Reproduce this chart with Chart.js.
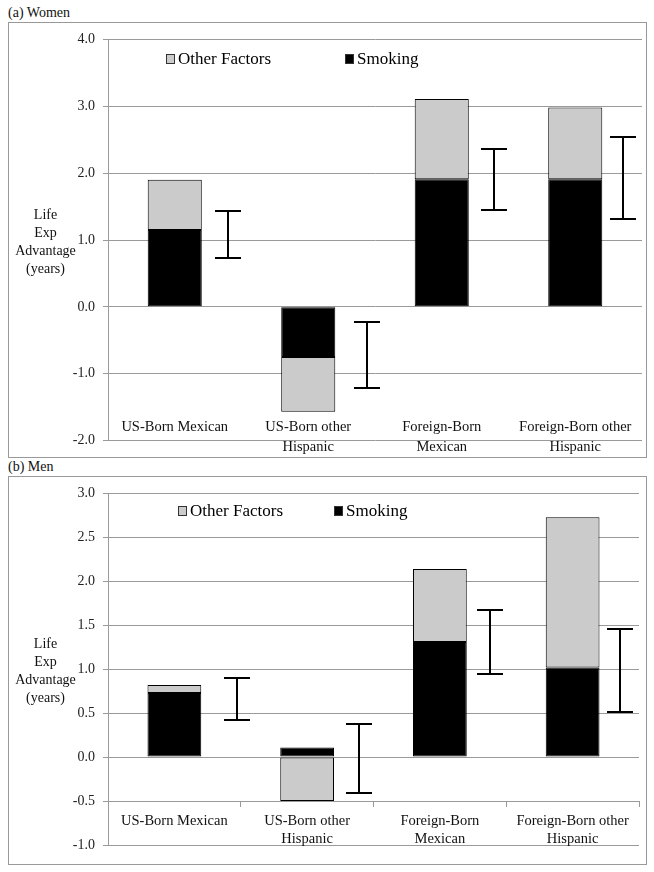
<!DOCTYPE html>
<html>
<head>
<meta charset="utf-8">
<script src="https://cdn.jsdelivr.net/npm/chart.js@4"></script>
<style>
  body { margin: 0; background: #fff; font-family: "Liberation Serif", "Times New Roman", serif; }
  .lbl { position: absolute; left: 8px; font-size: 14px; line-height: 16px; color: #111; }
  .box { position: absolute; left: 8px; width: 639px; box-sizing: border-box; border: 1px solid #999; }
  canvas { display: block; }
</style>
</head>
<body>
<div class="lbl" style="top:5px">(a) Women</div>
<div class="box" style="top:22px;height:436px"><canvas id="women" width="637" height="434"></canvas></div>
<div class="lbl" style="top:459px">(b) Men</div>
<div class="box" style="top:476px;height:389px"><canvas id="men" width="637" height="387"></canvas></div>

<script>
const categories = ['US-Born Mexican', ['US-Born other', 'Hispanic'], ['Foreign-Born', 'Mexican'], ['Foreign-Born other', 'Hispanic']];
const axisTitle = ['Life', 'Exp', 'Advantage', '(years)'];

// women
const womenSmoking = [1.15, -0.75, 1.91, 1.91];
const womenOther = [0.75, -0.82, 1.20, 1.07];
const womenLow = [0.73, -1.21, 1.45, 1.32];
const womenHigh = [1.43, -0.22, 2.36, 2.54];
const womenTicks = [-2, -1, 0, 1, 2, 3, 4];

// men
const menSmoking = [0.73, 0.11, 1.31, 1.02];
const menOther = [0.09, -0.50, 0.83, 1.71];
const menLow = [0.42, -0.41, 0.95, 0.51];
const menHigh = [0.90, 0.38, 1.67, 1.46];
const menTicks = [-1, -0.5, 0, 0.5, 1, 1.5, 2, 2.5, 3];

const FONT = '"Liberation Serif", "Times New Roman", serif';
const GRID = '#9a9a9a';

function errorBars(low, high, offsets) {
  return {
    id: 'errorBars',
    afterDatasetsDraw(chart) {
      const { ctx, scales: { x, y } } = chart;
      const catW = x.width / x.ticks.length;
      ctx.save();
      ctx.strokeStyle = '#000';
      ctx.lineWidth = 2;
      low.forEach((lo, i) => {
        const cx = Math.round(x.getPixelForValue(i) + offsets[i] * catW);
        const y1 = Math.round(y.getPixelForValue(high[i]));
        const y2 = Math.round(y.getPixelForValue(lo));
        ctx.beginPath();
        ctx.moveTo(cx, y1); ctx.lineTo(cx, y2);
        ctx.moveTo(cx - 13, y1); ctx.lineTo(cx + 13, y1);
        ctx.moveTo(cx - 13, y2); ctx.lineTo(cx + 13, y2);
        ctx.stroke();
      });
      ctx.restore();
    }
  };
}

// legend drawn inside the plot area, like the original
function insideLegend(xs, dy) {
  return {
    id: 'insideLegend',
    afterDraw(chart) {
      const { ctx, chartArea } = chart;
      const sets = chart.data.datasets.slice().reverse();
      ctx.save();
      ctx.font = '17px ' + FONT;
      ctx.textBaseline = 'middle';
      sets.forEach((ds, i) => {
        const bx = Math.round(chartArea.left + xs[i]);
        const cy = Math.round(chartArea.top + dy);
        ctx.fillStyle = ds.backgroundColor;
        ctx.fillRect(bx, cy - 5, 8, 9);
        ctx.strokeStyle = '#333';
        ctx.lineWidth = 1;
        ctx.strokeRect(bx + 0.5, cy - 4.5, 8, 9);
        ctx.fillStyle = '#000';
        ctx.fillText(ds.label, bx + 12, cy + 1);
      });
      ctx.restore();
    }
  };
}

function yTitle(cx) {
  return {
    id: 'yTitle',
    afterDraw(chart) {
      const { ctx, chartArea } = chart;
      const mid = (chartArea.top + chartArea.bottom) / 2 + 2;
      ctx.save();
      ctx.font = '14px ' + FONT;
      ctx.fillStyle = '#111';
      ctx.textAlign = 'center';
      ctx.textBaseline = 'middle';
      axisTitle.forEach((t, i) => ctx.fillText(t, cx, mid + (i - 1.5) * 18));
      ctx.restore();
    }
  };
}

function makeChart(id, smoking, other, low, high, ticks, o) {
  return new Chart(document.getElementById(id), {
    type: 'bar',
    data: {
      labels: categories,
      datasets: [
        { label: 'Smoking', data: smoking, backgroundColor: '#000000', borderColor: '#000', borderWidth: 1, borderSkipped: false },
        { label: 'Other Factors', data: other, backgroundColor: '#cbcbcb', borderColor: '#000', borderWidth: 1, borderSkipped: false }
      ]
    },
    options: {
      responsive: false,
      animation: false,
      layout: { padding: o.padding },
      datasets: { bar: { categoryPercentage: 1, barPercentage: 0.405 } },
      plugins: { legend: { display: false }, tooltip: { enabled: false } },
      scales: {
        x: {
          stacked: true,
          position: { y: o.axisAt },
          grid: o.xGrid,
          border: { display: o.xBorder, color: GRID },
          ticks: {
            autoSkip: false, maxRotation: 0, padding: o.tickPad, color: '#111',
            font: { family: FONT, size: 14.5, lineHeight: o.lineH }
          }
        },
        y: {
          stacked: true,
          min: ticks[0],
          max: ticks[ticks.length - 1],
          afterBuildTicks: s => { s.ticks = ticks.map(v => ({ value: v })); },
          afterFit: s => { s.width = 99; },
          grid: { color: GRID, tickLength: 5, lineWidth: 1 },
          border: { color: GRID },
          ticks: { padding: 8, color: '#222', font: { family: FONT, size: 14 }, callback: v => Number(v).toFixed(1) }
        }
      }
    },
    plugins: [errorBars(low, high, o.errOffsets), insideLegend(o.legendX, o.legendY), yTitle(36.5)]
  });
}

makeChart('women', womenSmoking, womenOther, womenLow, womenHigh, womenTicks, {
  padding: { left: 0, right: 4, top: 16, bottom: 16 },
  axisAt: -1.65,
  xGrid: { display: false, drawTicks: false },
  xBorder: false,
  tickPad: 0,
  lineH: 20 / 14.5,
  errOffsets: [0.40, 0.44, 0.39, 0.36],
  legendX: [58, 237],
  legendY: 20
});

makeChart('men', menSmoking, menOther, menLow, menHigh, menTicks, {
  padding: { left: 0, right: 7, top: 13, bottom: 19 },
  axisAt: -0.5,
  xGrid: { drawOnChartArea: false, drawTicks: true, tickLength: 5, color: GRID, offset: true },
  xBorder: true,
  tickPad: 6,
  lineH: 18 / 14.5,
  errOffsets: [0.47, 0.39, 0.38, 0.36],
  legendX: [70, 226],
  legendY: 18
});
</script>
</body>
</html>
